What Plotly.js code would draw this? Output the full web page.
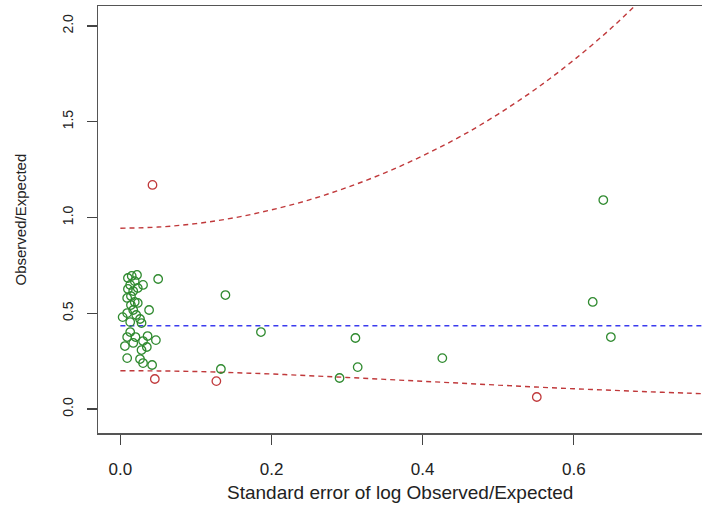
<!DOCTYPE html>
<html>
<head>
<meta charset="utf-8">
<script src="https://cdn.plot.ly/plotly-3.0.1.min.js"></script>
<style>html,body{margin:0;padding:0;background:#fff;}#chart{width:702px;height:508px;}</style>
</head>
<body>
<div id="chart"></div>
<script>
// Green points (within limits): standard error and observed/expected
const greenSE = [0.015,0.022,0.010,0.050,0.019,0.030,0.013,0.010,0.017,0.023,0.014,0.009,0.019,0.014,0.038,0.017,0.009,0.003,0.021,0.026,0.013,0.028,0.013,0.009,0.020,0.036,0.047,0.030,0.017,0.006,0.035,0.028,0.009,0.026,0.030,0.042,0.023,
  0.139,0.186,0.311,0.133,0.314,0.290,0.426,0.639,0.625,0.649];
const greenOE = [0.695,0.700,0.684,0.679,0.668,0.648,0.648,0.627,0.616,0.632,0.590,0.580,0.559,0.543,0.517,0.517,0.501,0.480,0.491,0.470,0.454,0.449,0.402,0.376,0.376,0.381,0.360,0.355,0.345,0.329,0.324,0.308,0.266,0.261,0.240,0.230,0.554,
  0.595,0.402,0.371,0.209,0.219,0.162,0.266,1.091,0.559,0.376];
// Red points (outside limits)
const redSE = [0.0425,0.0456,0.127,0.551];
const redOE = [1.170,0.157,0.146,0.063];
// Control limits
const limSE    = [0,0.05,0.10,0.15,0.20,0.25,0.30,0.35,0.40,0.45,0.50,0.55,0.60,0.65,0.70,0.75,0.77];
const upperOE  = [0.944,0.950,0.968,0.998,1.040,1.092,1.157,1.233,1.322,1.423,1.540,1.672,1.822,1.990,2.180,2.390,2.480];
const lowerOE  = [0.200,0.199,0.196,0.190,0.183,0.174,0.165,0.155,0.145,0.135,0.125,0.115,0.106,0.098,0.090,0.083,0.080];
// Overall ratio
const centreSE = [0,0.77];
const centreOE = [0.435,0.435];
const xTicks = [0,0.2,0.4,0.6];
const xTickText = ['0.0','0.2','0.4','0.6'];
const yTicks = [0,0.5,1.0,1.5,2.0];
const yTickText = ['0.0','0.5','1.0','1.5','2.0'];

const red = '#c0393b', green = '#2f8a2f', blue = '#3b3bee';
const traces = [
  {x: limSE, y: upperOE, mode:'lines', line:{color:red, width:1.4, dash:'5px,4px', shape:'spline'}, hoverinfo:'skip'},
  {x: limSE, y: lowerOE, mode:'lines', line:{color:red, width:1.4, dash:'5px,4px', shape:'spline'}, hoverinfo:'skip'},
  {x: centreSE, y: centreOE, mode:'lines', line:{color:blue, width:1.4, dash:'5px,4px'}, hoverinfo:'skip'},
  {x: greenSE, y: greenOE, mode:'markers', marker:{symbol:'circle-open', size:8.5, color:green, line:{width:1.3}}},
  {x: redSE, y: redOE, mode:'markers', marker:{symbol:'circle-open', size:8.5, color:red, line:{width:1.3}}}
];
const font = '"Liberation Sans", Arial, Helvetica, sans-serif';
const layout = {
  width:702, height:508, showlegend:false,
  paper_bgcolor:'#fff', plot_bgcolor:'#fff',
  margin:{l:98, r:0, t:6, b:75},
  font:{family:font, color:'#222'},
  xaxis:{range:[-0.0296,0.7696], tickvals:xTicks, ticktext:xTickText, showgrid:false, zeroline:false,
    showline:true, mirror:true, linecolor:'#555', linewidth:1.5, ticks:'outside', ticklen:10, tickcolor:'#444', tickwidth:1.2,
    tickfont:{size:17, family:font, color:'#222'}, ticklabelstandoff:10},
  yaxis:{range:[-0.125,2.104], tickvals:yTicks, ticktext:yTickText, showgrid:false, zeroline:false,
    showline:true, mirror:false, linecolor:'#555', linewidth:1.5, ticks:'outside', ticklen:10, tickcolor:'#444', tickwidth:1.2,
    tickangle:-90, tickfont:{size:14, family:font, color:'#222'}, ticklabelstandoff:8},
  annotations:[
    {text:'Standard error of log Observed/Expected', xref:'paper', yref:'paper', x:0.5, y:-0.1405, xanchor:'center', yanchor:'middle', showarrow:false, font:{size:19, family:font, color:'#222'}},
    {text:'Observed/Expected', xref:'paper', yref:'paper', x:-0.1275, y:0.5, xanchor:'center', yanchor:'middle', textangle:-90, showarrow:false, font:{size:15, family:font, color:'#222'}}
  ]
};
Plotly.newPlot('chart', traces, layout, {displayModeBar:false, staticPlot:true});
</script>
</body>
</html>
